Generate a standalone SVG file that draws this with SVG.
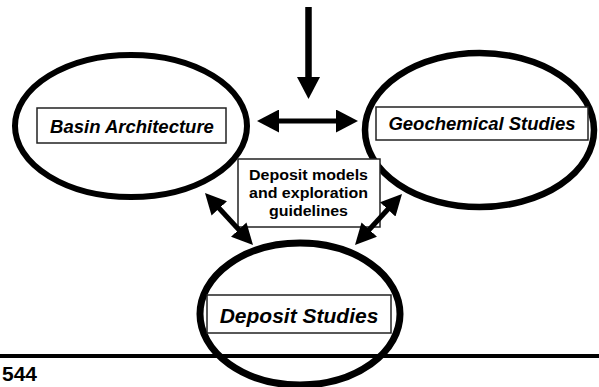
<svg xmlns="http://www.w3.org/2000/svg" width="599" height="387" viewBox="0 0 599 387">
<style>
.ell{fill:none;stroke:#000}
.box{fill:#fff;stroke:#222;stroke-width:1.5}
.lbl{font-family:"Liberation Sans",Arial,sans-serif;font-weight:bold;font-style:italic;fill:#000;text-anchor:middle}
.mid{font-family:"Liberation Sans",Arial,sans-serif;font-weight:bold;font-size:15px;fill:#000;text-anchor:middle}
.arr{stroke:#000;fill:none}
</style>
<defs>
<marker id="hb" viewBox="0 0 22 23" refX="8" refY="11.5" markerWidth="22" markerHeight="23" markerUnits="userSpaceOnUse" orient="auto-start-reverse"><path d="M0,0 L22,11.5 L0,23 z" fill="#000"/></marker>
<marker id="hs" viewBox="0 0 21 21" refX="7" refY="10.5" markerWidth="21" markerHeight="21" markerUnits="userSpaceOnUse" orient="auto-start-reverse"><path d="M0,0 L21,10.5 L0,21 z" fill="#000"/></marker>
</defs>
<rect width="599" height="387" fill="#fff"/>
<line x1="0" y1="356" x2="599" y2="356" stroke="#000" stroke-width="4"/>
<text x="2" y="381" font-family="'Liberation Sans',Arial,sans-serif" font-weight="bold" font-size="21">544</text>
<g id="basin">
<ellipse class="ell" cx="131" cy="126" rx="116" ry="71" stroke-width="6"/>
<rect class="box" x="37" y="108" width="189" height="35"/>
<text class="lbl" x="132" y="133" font-size="18.5">Basin Architecture</text>
</g>
<g id="geochem">
<ellipse class="ell" cx="479.5" cy="130" rx="114.5" ry="77" stroke-width="6.5"/>
<rect class="box" x="376" y="107" width="212" height="33"/>
<text class="lbl" x="482" y="130" font-size="18.5">Geochemical Studies</text>
</g>
<g id="deposit">
<ellipse class="ell" cx="300" cy="314" rx="100" ry="71" stroke-width="7"/>
<rect class="box" x="207" y="295" width="184" height="38"/>
<text class="lbl" x="299" y="323" font-size="21">Deposit Studies</text>
</g>
<g id="models">
<rect class="box" x="238" y="159" width="142" height="68"/>
<text class="mid" x="308.5" y="180" textLength="119" lengthAdjust="spacingAndGlyphs">Deposit models</text>
<text class="mid" x="308.5" y="198" textLength="119" lengthAdjust="spacingAndGlyphs">and exploration</text>
<text class="mid" x="308.5" y="216" textLength="79" lengthAdjust="spacingAndGlyphs">guidelines</text>
</g>
<g id="connectors">
<line class="arr" x1="308.5" y1="7" x2="308.5" y2="85" stroke-width="6.5" marker-end="url(#hb)"/>
<line class="arr" x1="271" y1="121" x2="344" y2="121" stroke-width="5" marker-start="url(#hb)" marker-end="url(#hb)"/>
<line class="arr" x1="214.5" y1="203.3" x2="243.5" y2="234.7" stroke-width="5" marker-start="url(#hs)" marker-end="url(#hs)"/>
<line class="arr" x1="364.5" y1="234.7" x2="392.5" y2="204.3" stroke-width="5" marker-start="url(#hs)" marker-end="url(#hs)"/>
</g>
</svg>
